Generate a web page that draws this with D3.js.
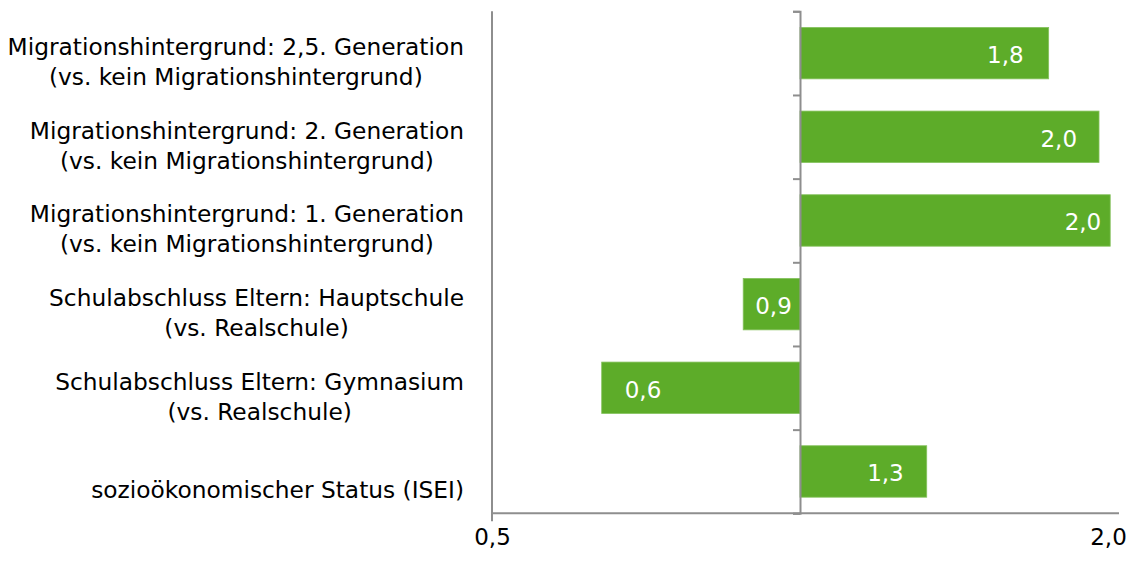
<!DOCTYPE html>
<html>
<head>
<meta charset="utf-8">
<script src="https://cdn.jsdelivr.net/npm/d3@7"></script>
<style>
  html, body { margin: 0; padding: 0; background: #ffffff; }
  svg { display: block; font-family: "DejaVu Sans", Verdana, sans-serif; }
</style>
</head>
<body>
<script>
// ---- data ----
const categories = [
  "Migrationshintergrund: 2,5. Generation|(vs. kein Migrationshintergrund)",
  "Migrationshintergrund: 2. Generation|(vs. kein Migrationshintergrund)",
  "Migrationshintergrund: 1. Generation|(vs. kein Migrationshintergrund)",
  "Schulabschluss Eltern: Hauptschule|(vs. Realschule)",
  "Schulabschluss Eltern: Gymnasium|(vs. Realschule)",
  "sozioökonomischer Status (ISEI)"
];
const values = [1.75, 1.96, 2.01, 0.88, 0.64, 1.33];
const xTickValues = [0.5, 2.0];
const xTickLabels = ["0,5", "2,0"];
const baselineValue = 1.0;

// ---- style ----
const labelInset = [25, 22, 9, 12, 23, 23];
const barColor = "#5dac29";
const axisColor = "#8e8e8e";
const W = 1134, H = 561;
const plot = { left: 492, right: 1119, top: 11.3, bottom: 513.3 };

const svg = d3.select("body").append("svg").attr("width", W).attr("height", H);

const x = d3.scaleLog().domain([0.5, 2]).range([492, 1108]);
const y = d3.scaleBand().domain(categories)
  .range([plot.top, plot.bottom]).paddingInner(0.385).paddingOuter(0.1925);

const fmt = v => d3.format(".1f")(v).replace(".", ",");

// left boundary line (0.5) with tick below
svg.append("line")
  .attr("x1", x(0.5)).attr("x2", x(0.5))
  .attr("y1", plot.top).attr("y2", plot.bottom + 8)
  .attr("stroke", axisColor).attr("stroke-width", 2);

// bottom horizontal line
svg.append("line")
  .attr("x1", x(0.5)).attr("x2", plot.right)
  .attr("y1", plot.bottom).attr("y2", plot.bottom)
  .attr("stroke", axisColor).attr("stroke-width", 2);

// bars
svg.append("g").selectAll("rect").data(values).join("rect")
  .attr("x", d => Math.min(x(baselineValue), x(d)))
  .attr("width", d => Math.abs(x(d) - x(baselineValue)))
  .attr("y", (d, i) => y(categories[i]))
  .attr("height", y.bandwidth())
  .attr("fill", barColor)
  .attr("stroke", "#86c25f").attr("stroke-width", 0.8);

// category axis at 1.0 with boundary ticks
const bScale = d3.scaleLinear().domain([0, categories.length]).range([plot.top, plot.bottom]);
const catAxis = svg.append("g")
  .attr("transform", `translate(${x(baselineValue)},0)`)
  .call(d3.axisLeft(bScale).ticks(categories.length).tickSize(7).tickFormat(""));
catAxis.selectAll("path, line").attr("stroke", axisColor).attr("stroke-width", 2);

// value labels
svg.append("g").selectAll("text").data(values).join("text")
  .attr("x", (d, i) => d >= baselineValue ? x(d) - labelInset[i] : x(d) + labelInset[i])
  .attr("y", (d, i) => y(categories[i]) + y.bandwidth() / 2 + 10)
  .attr("text-anchor", d => d >= baselineValue ? "end" : "start")
  .attr("fill", "#ffffff")
  .attr("font-size", "23px")
  .text(d => fmt(d));

// x axis tick labels
const xAxis = svg.append("g")
  .attr("transform", `translate(0,${plot.bottom})`)
  .call(d3.axisBottom(x).tickValues(xTickValues).tickSize(0)
    .tickFormat((d, i) => xTickLabels[i]));
xAxis.select(".domain").remove();
xAxis.selectAll("text")
  .attr("dy", null).attr("y", 32)
  .attr("font-size", "23px").attr("font-family", "DejaVu Sans")
  .attr("fill", "#000");

// category labels
const labelRight = 464;
const labG = svg.append("g");
categories.forEach((c, i) => {
  const lines = c.split("|");
  const cy = y(c) + y.bandwidth() / 2;
  const first = lines.length > 1 ? cy + 2 : cy + 27;
  const t = labG.append("text")
    .attr("font-size", "23.3px")
    .attr("fill", "#000")
    .attr("text-anchor", "middle");
  const spans = lines.map((ln, j) => t.append("tspan")
    .attr("y", first + j * 30).text(ln));
  let maxW = 0;
  spans.forEach(s => { maxW = Math.max(maxW, s.node().getComputedTextLength()); });
  spans.forEach(s => s.attr("x", labelRight - maxW / 2));
});
</script>
</body>
</html>
